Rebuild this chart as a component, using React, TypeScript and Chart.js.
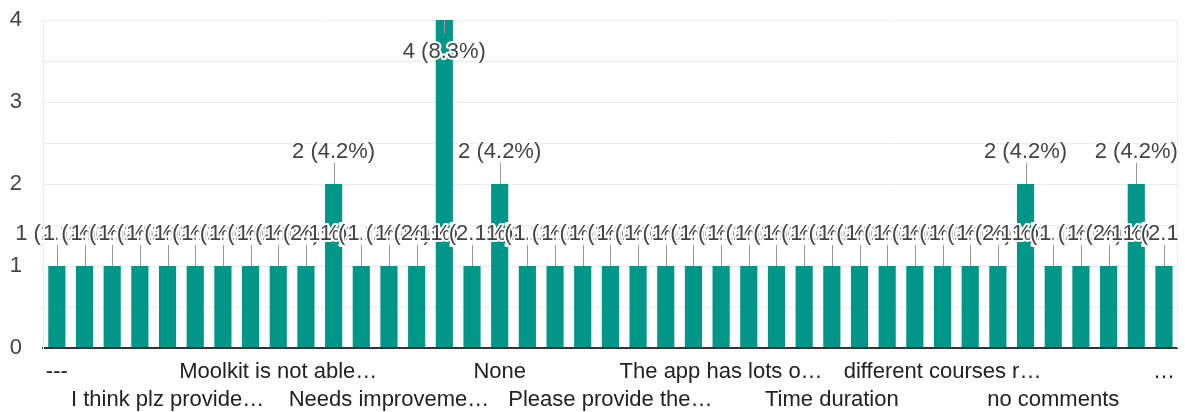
import React, { useEffect, useRef } from "react";
import { Chart, registerables } from "chart.js";

Chart.register(...registerables);

const categories: string[] = [
  "---", "", "", "", "I think plz provide…", "", "", "", "Moolkit is not able…", "",
  "", "", "Needs improveme…", "", "", "", "None", "", "", "",
  "Please provide the…", "", "", "", "The app has lots o…", "", "", "", "Time duration", "",
  "", "", "different courses r…", "", "", "", "no comments", "", "", "", "…",
];

const counts: number[] = [
  1, 1, 1, 1, 1, 1, 1, 1, 1, 1,
  2, 1, 1, 1, 4, 1, 2, 1, 1, 1,
  1, 1, 1, 1, 1, 1, 1, 1, 1, 1,
  1, 1, 1, 1, 1, 2, 1, 1, 1, 2,
  1,
];

const yTicks: number[] = [0, 1, 2, 3, 4];

const FONT = "'Liberation Sans', Arial, sans-serif";
const FONT_SIZE = 22;

const annotationPlugin = {
  id: "annotations",
  afterDatasetsDraw(chart: any) {
    const ctx = chart.ctx;
    const area = chart.chartArea;
    const meta = chart.getDatasetMeta(0);
    const total = counts.reduce((a, b) => a + b, 0);
    ctx.save();
    ctx.beginPath();
    ctx.rect(0, 0, area.right, chart.height);
    ctx.clip();
    ctx.font = `${FONT_SIZE}px ${FONT}`;
    ctx.textAlign = "center";
    ctx.textBaseline = "alphabetic";
    meta.data.forEach((bar: any, i: number) => {
      const v = counts[i];
      const text = `${v} (${((v / total) * 100).toFixed(1)}%)`;
      const x = bar.x;
      const top = bar.y;
      let baseline: number;
      let stemEnd: number;
      if (top - area.top >= 40) {
        stemEnd = top - 21;
        baseline = top - 26;
      } else {
        stemEnd = top + 14;
        baseline = top + 38;
      }
      ctx.strokeStyle = "#999999";
      ctx.lineWidth = 1;
      ctx.beginPath();
      ctx.moveTo(Math.round(x) + 0.5, top);
      ctx.lineTo(Math.round(x) + 0.5, stemEnd);
      ctx.stroke();
      ctx.lineJoin = "round";
      ctx.strokeStyle = "#ffffff";
      ctx.lineWidth = 4;
      ctx.strokeText(text, x, baseline);
      ctx.fillStyle = "#444444";
      ctx.fillText(text, x, baseline);
    });
    ctx.restore();
  },
};

const framePlugin = {
  id: "frame",
  beforeDatasetsDraw(chart: any) {
    const ctx = chart.ctx;
    const a = chart.chartArea;
    ctx.save();
    ctx.strokeStyle = "#ebebeb";
    ctx.lineWidth = 1;
    ctx.beginPath();
    ctx.moveTo(a.right - 0.5, a.top);
    ctx.lineTo(a.right - 0.5, a.bottom);
    ctx.stroke();
    ctx.restore();
  },
};

export default function App() {
  const ref = useRef<HTMLCanvasElement | null>(null);

  useEffect(() => {
    if (!ref.current) return;
    const chart = new Chart(ref.current, {
      type: "bar",
      data: {
        labels: categories,
        datasets: [
          {
            data: counts,
            backgroundColor: "#009688",
            borderWidth: 0,
            categoryPercentage: 1,
            barPercentage: 0.62,
          },
        ],
      },
      plugins: [framePlugin, annotationPlugin],
      options: {
        responsive: false,
        animation: false,
        layout: { padding: { top: 20, right: 3, left: 0, bottom: 0 } },
        plugins: { legend: { display: false }, tooltip: { enabled: false } },
        scales: {
          x: {
            grid: { drawOnChartArea: false, drawTicks: false, color: "transparent" },
            border: { display: true, color: "#333333", width: 2 },
            ticks: {
              autoSkip: false,
              maxRotation: 0,
              minRotation: 0,
              padding: 10,
              color: "#222222",
              font: { family: FONT, size: FONT_SIZE, lineHeight: 1.27 },
              callback: (_v: any, index: number) => {
                if (index % 4 !== 0) return "";
                const label = categories[index];
                return (index / 4) % 2 === 0 ? label : ["", label];
              },
            },
            afterFit: (scale: any) => {
              scale.height = 64;
            },
          },
          y: {
            min: 0,
            max: 4,
            grid: {
              drawTicks: false,
              color: (c: any) => (c.tick && c.tick.value === 0 ? "#333333" : "#ebebeb"),
              lineWidth: (c: any) => (c.tick && c.tick.value === 0 ? 2 : 1),
            },
            border: { display: true, color: "#ebebeb" },
            ticks: {
              stepSize: 0.5,
              padding: 21,
              color: "#444444",
              font: { family: FONT, size: FONT_SIZE },
              callback: (v: any) => (yTicks.includes(Number(v)) ? String(v) : ""),
            },
            afterFit: (scale: any) => {
              scale.width = 43;
              scale.paddingTop = 0;
              scale.paddingBottom = 0;
            },
          },
        },
      },
    });
    return () => chart.destroy();
  }, []);

  return (
    <div style={{ position: "fixed", left: 0, top: 0, width: 1185, height: 412, background: "#fff" }}>
      <canvas ref={ref} width={1185} height={412} />
    </div>
  );
}
